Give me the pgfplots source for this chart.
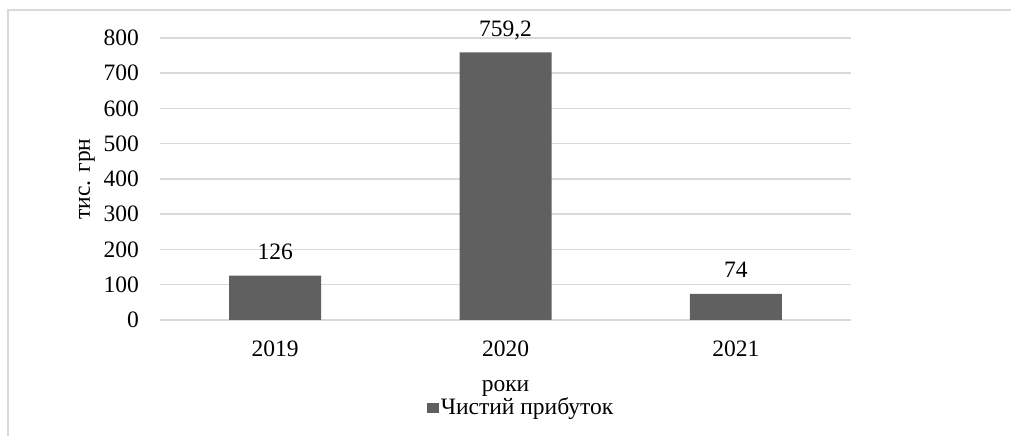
\documentclass[border=0pt]{standalone}
\usepackage{fontspec}
\setmainfont{Liberation Serif}
\usepackage{pgfplots}
\pgfplotsset{compat=1.18}
\definecolor{barcol}{RGB}{96,96,96}
\definecolor{gridcol}{RGB}{217,217,217}

\begin{document}
\fontsize{23.5bp}{28bp}\selectfont
\begin{tikzpicture}[x=1bp,y=1bp]
  % page = 1011 x 436 px, origin bottom-left
  \useasboundingbox (0,0) rectangle (1011,436);
  \clip (0,0) rectangle (1011,436);
  \draw[gridcol, line width=1.5bp] (8,-20) -- (8,426) -- (1030,426);
  \begin{axis}[
      at={(160bp,116bp)}, anchor=south west,
      scale only axis,
      width=691bp, height=282bp,
      ymin=0, ymax=800,
      ytick={0,100,...,800},
      xmin=-0.5, xmax=2.5,
      xtick=data,
      xticklabels={2019,2020,2021},
      axis line style={draw=none},
      major tick length=0pt,
      ymajorgrids,
      grid style={gridcol, line width=1.5bp},
      ybar, bar width=92bp,
      clip=false,
      /pgf/number format/assume math mode=true,
      yticklabel style={anchor=east, inner sep=0pt, xshift=-21bp},
      xticklabel style={anchor=base, inner sep=0pt, yshift=-37bp},
      xlabel={роки},
      xlabel style={at={(axis description cs:0.5,-0.252)}, anchor=base, inner sep=0pt},
      ylabel={тис. грн},
      ylabel style={at={(axis description cs:-0.106,0.5)}, anchor=center, rotate=0, inner sep=0pt},
      nodes near coords={\pgfmathprintnumber[use comma]{\pgfplotspointmeta}},
      nodes near coords style={anchor=base, inner sep=0pt, yshift=16bp, black},
      legend style={at={(0.5225,-0.312)}, anchor=center, draw=none, fill=none,
        inner sep=0pt, legend cell align=left,
        /tikz/every even column/.append style={column sep=0pt}},
      legend image code/.code={\fill[barcol] (0bp,-5bp) rectangle (12bp,5bp);},
    ]
    \addplot[fill=barcol, draw=none] coordinates {(0,126) (1,759.2) (2,74)};
    \addlegendentry{Чистий прибуток}
  \end{axis}
\end{tikzpicture}
\end{document}
